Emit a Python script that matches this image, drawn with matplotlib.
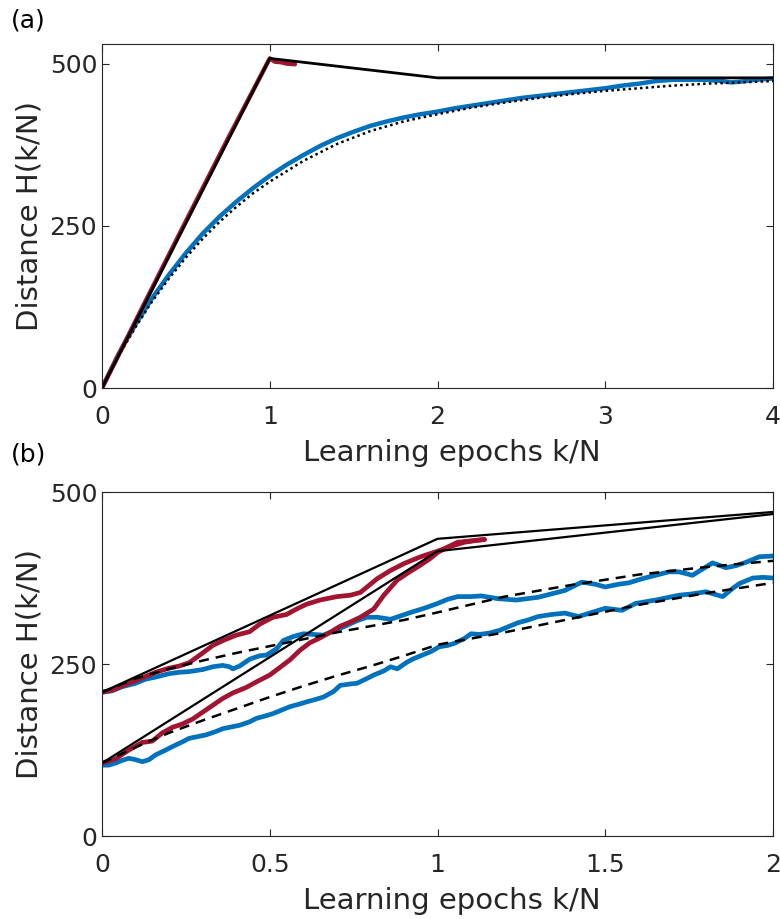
import matplotlib
matplotlib.use("Agg")
import matplotlib.pyplot as plt

plt.rcParams['font.family'] = ['DejaVu Sans']

BLUE = '#0072BD'
RED = '#A2142F'
TXT = '#262626'

# ---------------- panel (a) data ----------------
a_red_x = [0, 0.25, 0.5, 0.75, 1.0, 1.03, 1.07, 1.1, 1.15]
a_red_y = [0, 129, 257, 384, 508, 503, 502, 500, 499]

a_theory_x = [0, 1, 2, 4]
a_theory_y = [0, 508, 478, 478]

a_blue_x = [0, 0.05, 0.1, 0.15, 0.2, 0.3, 0.4, 0.5, 0.6, 0.7, 0.8, 0.9, 1.0,
            1.1, 1.2, 1.3, 1.4, 1.5, 1.6, 1.7, 1.8, 1.9, 2.0, 2.1, 2.2, 2.3,
            2.4, 2.5, 2.6, 2.7, 2.8, 2.9, 3.0, 3.1, 3.2, 3.3, 3.4, 3.5, 3.6,
            3.7, 3.75, 3.8, 3.9, 4.0]
a_blue_y = [0, 27, 53, 76, 98, 139, 175, 208, 238, 264, 287, 308, 327,
            344, 359, 373, 385, 395, 404, 411, 417, 422, 426, 431, 435, 439,
            443, 447, 450, 453, 456, 459, 462, 466, 469, 473, 475, 475, 475,
            473, 471, 472, 475, 477]

a_dot_x = [0, 0.1, 0.2, 0.3, 0.4, 0.5, 0.6, 0.7, 0.8, 0.9, 1.0, 1.2, 1.4,
           1.6, 1.8, 2.0, 2.2, 2.4, 2.6, 2.8, 3.0, 3.2, 3.4, 3.6, 3.8, 4.0]
a_dot_y = [0, 50, 94, 134, 169, 201, 230, 256, 279, 300, 318, 350, 376,
           396, 411, 422, 432, 440, 447, 453, 458, 462, 466, 469, 471, 473]

# ---------------- panel (b) data ----------------
b_sol1_x = [0, 1, 2]
b_sol1_y = [209, 432, 471]
b_sol2_x = [0, 1, 2]
b_sol2_y = [106, 414, 468]

b_red1_x = [0, 0.03, 0.06, 0.1, 0.13, 0.16, 0.2, 0.23, 0.26, 0.3, 0.33, 0.36,
            0.4, 0.44, 0.47, 0.51, 0.55, 0.58, 0.61, 0.65, 0.7, 0.74, 0.77,
            0.79, 0.82, 0.86, 0.9, 0.95, 1.0, 1.04, 1.08, 1.12, 1.14]
b_red1_y = [209, 212, 218, 226, 232, 238, 244, 247, 252, 266, 277, 284,
            292, 297, 308, 318, 322, 330, 337, 343, 348, 350, 354,
            362, 374, 386, 396, 406, 414, 421, 427, 430, 431]

b_red2_x = [0, 0.04, 0.08, 0.12, 0.15, 0.18, 0.21, 0.24, 0.27, 0.3, 0.33,
            0.36, 0.39, 0.43, 0.46, 0.5, 0.53, 0.56, 0.59, 0.62, 0.65, 0.68,
            0.71, 0.74, 0.77, 0.81, 0.84, 0.88, 0.92, 0.95, 0.98, 1.0, 1.03,
            1.06, 1.1, 1.14]
b_red2_y = [106, 112, 125, 136, 138, 150, 158, 163, 170, 180, 190,
            200, 208, 216, 224, 234, 245, 256, 270, 281, 288, 296,
            305, 311, 318, 330, 350, 372, 385, 394, 404, 412, 420,
            427, 429, 431]

b_blue1_x = [0, 0.03, 0.06, 0.1, 0.13, 0.16, 0.2, 0.23, 0.26, 0.3, 0.33, 0.36,
             0.38, 0.39, 0.41, 0.44, 0.47, 0.49, 0.52, 0.54, 0.57, 0.6, 0.63,
             0.66, 0.69, 0.72, 0.76, 0.79, 0.82, 0.86, 0.89, 0.92, 0.96, 1.0,
             1.03, 1.06, 1.1, 1.13, 1.18, 1.235, 1.3, 1.34, 1.38, 1.43, 1.47,
             1.5, 1.54, 1.57, 1.61, 1.65, 1.69, 1.72, 1.76, 1.79, 1.82, 1.86,
             1.89, 1.92, 1.96, 2.0]
b_blue1_y = [209, 211, 217, 222, 228, 231, 236, 238, 239, 242, 246, 248,
             246, 243, 247, 257, 262, 263, 272, 284, 290, 294, 293,
             292, 298, 304, 313, 318, 318, 315, 320, 325, 331, 338,
             344, 348, 348, 349, 345, 343, 347, 352, 357, 369, 366,
             362, 366, 368, 374, 379, 384, 384, 379, 388, 397, 390,
             393, 398, 406, 407]

b_blue2_x = [0, 0.02, 0.04, 0.06, 0.08, 0.1, 0.12, 0.14, 0.16, 0.19, 0.21,
             0.24, 0.26, 0.29, 0.31, 0.34, 0.36, 0.39, 0.41, 0.44, 0.46, 0.49,
             0.51, 0.54, 0.56, 0.59, 0.61, 0.64, 0.66, 0.69, 0.71, 0.74, 0.76,
             0.79, 0.81, 0.84, 0.86, 0.88, 0.91, 0.93, 0.955, 0.98, 1.005,
             1.03, 1.05, 1.08, 1.1, 1.125, 1.155, 1.185, 1.21, 1.24, 1.27,
             1.3, 1.34, 1.38, 1.42, 1.46, 1.5, 1.55, 1.59, 1.65, 1.72, 1.76,
             1.8, 1.85, 1.88, 1.9, 1.94, 1.97, 2.0]
b_blue2_y = [103, 103, 106, 110, 113, 111, 108, 111, 118, 125, 130,
             137, 142, 145, 147, 152, 156, 159, 161, 166, 171, 175,
             178, 184, 188, 192, 195, 199, 202, 210, 219, 221, 222,
             229, 234, 240, 246, 243, 253, 258, 263, 268, 275,
             277, 280, 287, 294, 293, 295, 299, 304, 310, 314,
             319, 322, 324, 319, 325, 331, 328, 338, 343, 350, 352,
             355, 348, 360, 367, 375, 376, 375]

b_dash1_x = [0, 0.1, 0.2, 0.3, 0.4, 0.5, 0.6, 0.7, 0.8, 0.9, 1.0, 1.2, 1.4,
             1.6, 1.8, 2.0]
b_dash1_y = [209, 229, 243, 255, 266, 276, 286, 296, 305, 314, 325, 348, 365,
             380, 391, 400]
b_dash2_x = [0, 0.1, 0.2, 0.3, 0.4, 0.5, 0.6, 0.7, 0.8, 0.9, 1.0, 1.2, 1.4,
             1.6, 1.8, 2.0]
b_dash2_y = [106, 129, 150, 168, 185, 202, 218, 233, 247, 262, 278, 296, 316,
             336, 353, 368]

a_xticks = [0, 1, 2, 3, 4]
b_xticks = [0, 0.5, 1, 1.5, 2]
b_xticklabels = ['0', '0.5', '1', '1.5', '2']
yticks = [0, 250, 500]

fig = plt.figure(figsize=(7.8, 9.19), dpi=100)
axa = fig.add_axes([0.1308, 0.5778, 0.8602, 0.3742])
axb = fig.add_axes([0.1308, 0.0903, 0.8602, 0.3743])


def style(ax):
    for s in ax.spines.values():
        s.set_color(TXT)
        s.set_linewidth(0.8)
    ax.tick_params(direction='in', length=5, width=0.8, top=True, right=True,
                   colors=TXT, labelsize=18)
    ax.tick_params(axis='x', pad=12.5)
    ax.tick_params(axis='y', pad=3.5)
    ax.set_xlabel('Learning epochs k/N', fontsize=21, color=TXT)
    ax.xaxis.set_label_coords(0.521, -0.148)
    ax.set_ylabel('Distance H(k/N)', fontsize=21, color=TXT, labelpad=4)


# panel (a)
axa.plot(a_blue_x, a_blue_y, color=BLUE, lw=3.2, solid_capstyle='round')
axa.plot(a_dot_x, a_dot_y, color='black', lw=1.8, ls=(0, (1, 1.3)))
axa.plot(a_red_x, a_red_y, color=RED, lw=3.2, solid_capstyle='round')
axa.plot(a_theory_x, a_theory_y, color='black', lw=2.0)
axa.set_xlim(0, 4)
axa.set_ylim(0, 530)
axa.set_xticks(a_xticks)
axa.set_yticks(yticks)
style(axa)

# panel (b)
axb.plot(b_blue1_x, b_blue1_y, color=BLUE, lw=3.4, solid_capstyle='round')
axb.plot(b_blue2_x, b_blue2_y, color=BLUE, lw=3.4, solid_capstyle='round')
axb.plot(b_red1_x, b_red1_y, color=RED, lw=3.4, solid_capstyle='round')
axb.plot(b_red2_x, b_red2_y, color=RED, lw=3.4, solid_capstyle='round')
axb.plot(b_dash1_x, b_dash1_y, color='black', lw=1.8, ls=(0, (4, 2.8)))
axb.plot(b_dash2_x, b_dash2_y, color='black', lw=1.8, ls=(0, (4, 2.8)))
axb.plot(b_sol1_x, b_sol1_y, color='black', lw=1.6)
axb.plot(b_sol2_x, b_sol2_y, color='black', lw=1.6)
axb.set_xlim(0, 2)
axb.set_ylim(0, 500)
axb.set_xticks(b_xticks)
axb.set_xticklabels(b_xticklabels)
axb.set_yticks(yticks)
style(axb)

fig.text(0.014, 0.991, '(a)', fontsize=18, color='black', va='top', ha='left')
fig.text(0.014, 0.519, '(b)', fontsize=18, color='black', va='top', ha='left')

fig.savefig('out.png', dpi=100)
